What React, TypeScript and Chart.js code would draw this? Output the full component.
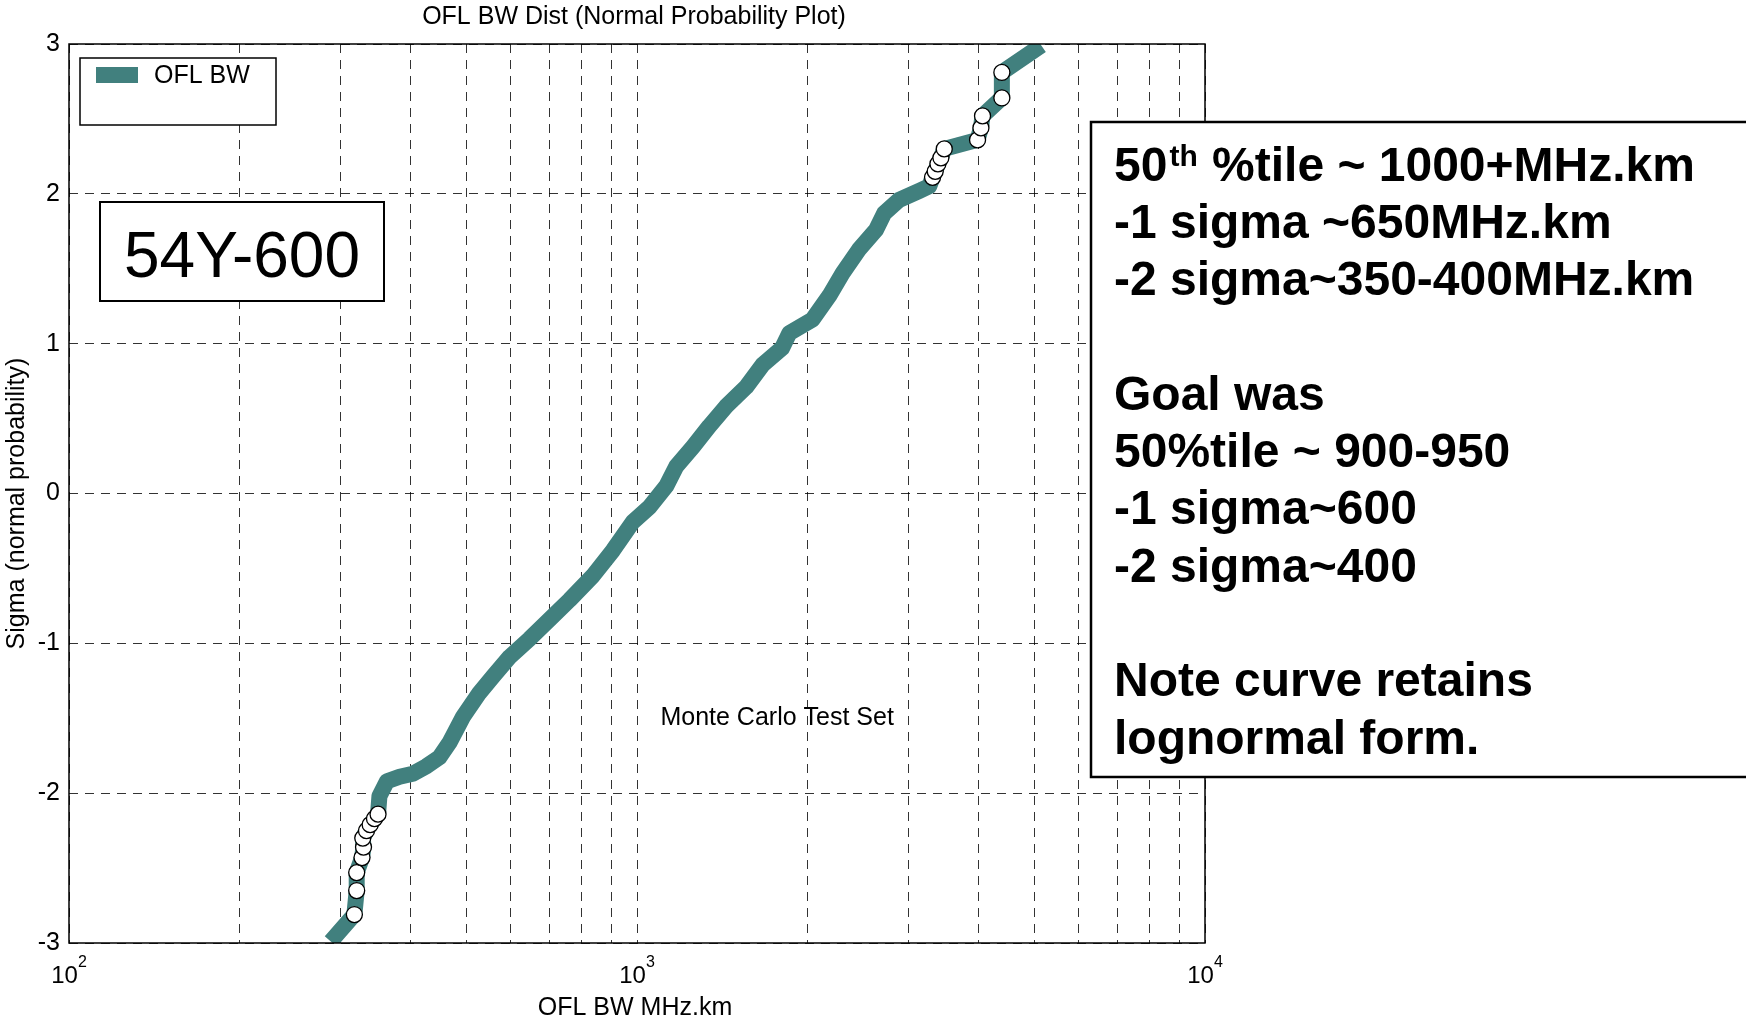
import React, { useEffect, useRef } from 'react';
import { Chart, registerables } from 'chart.js';

Chart.register(...registerables);

// ---------- data ----------
const lineSigma = [
  -2.99, -2.81, -2.65, -2.53, -2.43, -2.36, -2.30, -2.25, -2.21, -2.17, -2.14,
  -2.02, -1.92, -1.89, -1.87, -1.82, -1.76, -1.66, -1.49, -1.33, -1.22, -1.09,
  -0.97, -0.84, -0.71, -0.55, -0.38, -0.19, -0.09, 0.05, 0.18, 0.31, 0.45, 0.58,
  0.71, 0.86, 0.97, 1.07, 1.16, 1.32, 1.47, 1.63, 1.76, 1.87, 1.96, 2.02, 2.05,
  2.11, 2.15, 2.20, 2.24, 2.30, 2.36, 2.44, 2.52, 2.64, 2.81, 2.99,
];
const lineBW = [
  289, 318, 321, 321, 328, 330, 329, 334, 339, 345, 350,
  352, 363, 382, 403, 426, 449, 468, 494, 528, 558, 597,
  647, 702, 761, 836, 907, 983, 1052, 1126, 1172, 1254, 1341, 1434,
  1556, 1665, 1800, 1854, 2036, 2181, 2301, 2461, 2636, 2724, 2895, 3141, 3269,
  3314, 3350, 3387, 3428, 3475, 3977, 4032, 4058, 4389, 4389, 5150,
];
const markerSigma = [
  -2.81, -2.65, -2.53, -2.43, -2.36, -2.30, -2.25, -2.21, -2.17, -2.14,
  2.11, 2.15, 2.20, 2.24, 2.30, 2.36, 2.44, 2.52, 2.64, 2.81,
];
const markerBW = [
  318, 321, 321, 328, 330, 329, 334, 339, 345, 350,
  3314, 3350, 3387, 3428, 3475, 3977, 4032, 4058, 4389, 4389,
];
const xGridValues = [
  100, 200, 300, 400, 500, 600, 700, 800, 900,
  1000, 2000, 3000, 4000, 5000, 6000, 7000, 8000, 9000, 10000,
];
const xDecades = [100, 1000, 10000];
const xDecadeExponents = ['2', '3', '4'];

const chartTitle = 'OFL BW Dist (Normal Probability Plot)';
const xAxisTitle = 'OFL BW MHz.km';
const yAxisTitle = 'Sigma (normal probability)';
const seriesName = 'OFL BW';
const annotationText = 'Monte Carlo Test Set';
const annotationX = 1765;
const annotationY = -1.5;
const tagText = '54Y-600';
const noteLines = [
  '50{th} %tile ~ 1000+MHz.km',
  '-1 sigma ~650MHz.km',
  '-2 sigma~350-400MHz.km',
  '',
  'Goal was',
  '50%tile ~ 900-950',
  '-1 sigma~600',
  '-2 sigma~400',
  '',
  'Note curve retains',
  'lognormal form.',
];

const FONT = '"Liberation Sans", Arial, Helvetica, sans-serif';
const TEAL = 'rgb(65,128,126)';

const decorPlugin = {
  id: 'decor',
  afterDraw(chart: any) {
    const { ctx, chartArea: a, scales } = chart;
    const xs = scales.x;
    const ys = scales.y;
    ctx.save();

    // axes frame
    ctx.strokeStyle = '#000';
    ctx.lineWidth = 1.5;
    ctx.setLineDash([]);
    ctx.strokeRect(a.left, a.top, a.right - a.left, a.bottom - a.top);

    const cx = (a.left + a.right) / 2;
    ctx.fillStyle = '#000';

    // title
    ctx.font = `25px ${FONT}`;
    ctx.textAlign = 'center';
    ctx.textBaseline = 'alphabetic';
    ctx.fillText(chartTitle, cx - 3, 24);

    // x tick labels 10^n
    xDecades.forEach((v, i) => {
      const px = xs.getPixelForValue(v);
      ctx.font = `24px ${FONT}`;
      const w1 = ctx.measureText('10').width;
      ctx.font = `16px ${FONT}`;
      const w2 = ctx.measureText(xDecadeExponents[i]).width;
      const start = px - (w1 + w2) / 2;
      ctx.textAlign = 'left';
      ctx.font = `24px ${FONT}`;
      ctx.fillText('10', start, a.bottom + 40);
      ctx.font = `16px ${FONT}`;
      ctx.fillText(xDecadeExponents[i], start + w1, a.bottom + 24);
    });

    // x axis title
    ctx.font = `25px ${FONT}`;
    ctx.textAlign = 'center';
    ctx.fillText(xAxisTitle, cx - 2, a.bottom + 72);

    // y axis title
    ctx.save();
    ctx.translate(17, (a.top + a.bottom) / 2 + 10);
    ctx.rotate(-Math.PI / 2);
    ctx.textBaseline = 'middle';
    ctx.fillText(yAxisTitle, 0, 0);
    ctx.restore();

    // annotation inside plot
    ctx.font = `25px ${FONT}`;
    ctx.textAlign = 'center';
    ctx.textBaseline = 'middle';
    ctx.fillText(annotationText, xs.getPixelForValue(annotationX), ys.getPixelForValue(annotationY));

    // legend box
    ctx.textBaseline = 'alphabetic';
    const lx = a.left + 11;
    const ly = a.top + 14;
    ctx.fillStyle = '#fff';
    ctx.fillRect(lx, ly, 196, 67);
    ctx.strokeStyle = '#000';
    ctx.lineWidth = 1.5;
    ctx.strokeRect(lx, ly, 196, 67);
    ctx.fillStyle = TEAL;
    ctx.fillRect(lx + 16, ly + 9, 42, 16);
    ctx.fillStyle = '#000';
    ctx.textAlign = 'left';
    ctx.font = `25px ${FONT}`;
    ctx.fillText(seriesName, lx + 74, ly + 25);

    // tag box
    const tx = a.left + 31;
    const ty = a.top + 158;
    ctx.fillStyle = '#fff';
    ctx.fillRect(tx, ty, 284, 99);
    ctx.lineWidth = 2;
    ctx.strokeRect(tx, ty, 284, 99);
    ctx.fillStyle = '#000';
    ctx.font = `64px ${FONT}`;
    ctx.textAlign = 'center';
    ctx.fillText(tagText, tx + 142, ty + 75);

    // note box
    const nx = 1091;
    const ny = 122;
    ctx.fillStyle = '#fff';
    ctx.fillRect(nx, ny, 700, 655);
    ctx.lineWidth = 2.5;
    ctx.strokeRect(nx, ny, 700, 655);
    ctx.fillStyle = '#000';
    ctx.textAlign = 'left';
    noteLines.forEach((line, i) => {
      const by = 180.5 + 57.3 * i;
      let x = nx + 23;
      const parts = line.split(/(\{[^}]*\})/).filter((p) => p.length > 0);
      parts.forEach((p) => {
        if (p.startsWith('{')) {
          const t = p.slice(1, -1);
          ctx.font = `bold 30px ${FONT}`;
          ctx.fillText(t, x + 2, by - 15);
          x += ctx.measureText(t).width + 3;
        } else {
          ctx.font = `bold 48px ${FONT}`;
          ctx.fillText(p, x, by);
          x += ctx.measureText(p).width;
        }
      });
    });

    ctx.restore();
  },
};

export default function App() {
  const canvasRef = useRef<HTMLCanvasElement | null>(null);

  useEffect(() => {
    const canvas = canvasRef.current;
    if (!canvas) return;
    const lineData = lineBW.map((x, i) => ({ x, y: lineSigma[i] }));
    const markerData = markerBW.map((x, i) => ({ x, y: markerSigma[i] }));

    const chart = new Chart(canvas, {
      type: 'scatter',
      data: {
        datasets: [
          {
            label: seriesName + ' markers',
            data: markerData,
            order: 0,
            showLine: false,
            pointRadius: 8,
            pointBackgroundColor: '#fff',
            pointBorderColor: '#000',
            pointBorderWidth: 1.3,
            clip: false as any,
          },
          {
            label: seriesName,
            data: lineData,
            order: 1,
            showLine: true,
            borderColor: TEAL,
            backgroundColor: TEAL,
            borderWidth: 16,
            borderJoinStyle: 'round',
            borderCapStyle: 'butt',
            pointRadius: 0,
            tension: 0,
            clip: 0 as any,
          },
        ],
      },
      options: {
        responsive: false,
        animation: false,
        devicePixelRatio: 1,
        layout: { padding: { left: 0, top: 44, right: 541, bottom: 0 } },
        plugins: {
          legend: { display: false },
          title: { display: false },
          tooltip: { enabled: false },
        },
        events: [],
        scales: {
          x: {
            type: 'logarithmic',
            min: 100,
            max: 10000,
            afterBuildTicks: (scale: any) => {
              scale.ticks = xGridValues.map((v) => ({ value: v }));
            },
            afterFit: (scale: any) => {
              scale.height = 81;
            },
            ticks: { display: false },
            grid: { color: 'rgba(0,0,0,0.8)', lineWidth: 1, drawTicks: false },
            border: { display: false, dash: [9, 7] },
          },
          y: {
            type: 'linear',
            min: -3,
            max: 3,
            afterFit: (scale: any) => {
              scale.width = 69;
            },
            ticks: {
              stepSize: 1,
              color: '#000',
              padding: 9,
              font: { family: FONT, size: 25 },
            },
            grid: { color: 'rgba(0,0,0,0.8)', lineWidth: 1, drawTicks: false },
            border: { display: false, dash: [9, 7] },
          },
        },
      } as any,
      plugins: [decorPlugin],
    });
    return () => chart.destroy();
  }, []);

  return (
    <div style={{ position: 'absolute', left: 0, top: 0, width: 1746, height: 1024, background: '#fff' }}>
      <canvas ref={canvasRef} width={1746} height={1024} style={{ display: 'block', width: 1746, height: 1024 }} />
    </div>
  );
}
